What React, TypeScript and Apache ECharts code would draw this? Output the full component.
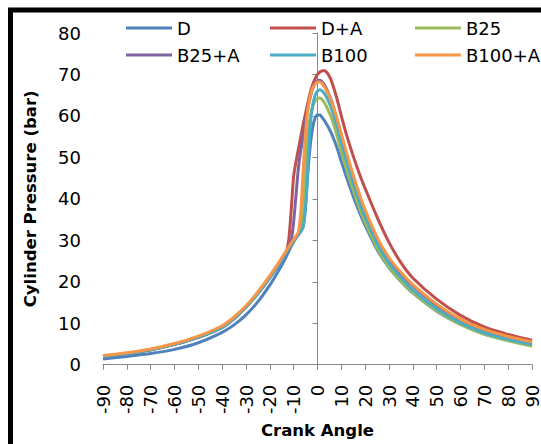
import React, { useEffect, useRef } from "react";
import * as echarts from "echarts";

const angles = [-90, -80, -70, -60, -50, -40, -35, -30, -25, -20, -17, -15, -13, -12, -11, -10, -9, -8, -7, -6, -5, -4, -3, -2, -1, 0, 1, 2, 3, 4, 5, 6, 8, 10, 12, 15, 18, 20, 25, 30, 35, 40, 50, 60, 70, 80, 90];

const valD = [1.4, 2.0, 2.7, 3.7, 5.3, 7.8, 9.6, 12.0, 15.2, 19.2, 22.0, 24.0, 26.2, 27.4, 28.6, 29.6, 30.5, 31.3, 32.1, 33.5, 38.5, 46.5, 53.0, 57.3, 59.5, 60.2, 60.2, 59.6, 58.8, 57.8, 56.8, 55.6, 52.6, 49.0, 45.5, 40.6, 36.2, 33.6, 27.8, 23.4, 20.1, 17.3, 12.9, 9.7, 7.4, 5.9, 4.7];
const valDA = [2.0, 2.7, 3.6, 4.9, 6.6, 9.0, 11.1, 13.9, 17.2, 21.0, 23.5, 25.4, 27.4, 30.5, 37.5, 45.5, 49.0, 52.0, 55.0, 58.0, 60.6, 63.3, 65.7, 67.6, 69.0, 70.0, 70.6, 70.9, 70.9, 70.4, 69.5, 68.2, 64.5, 60.0, 55.8, 50.3, 45.4, 42.5, 35.6, 29.5, 24.6, 20.9, 15.8, 11.9, 9.1, 7.3, 5.9];
const valB25 = [2.0, 2.7, 3.6, 4.9, 6.6, 9.0, 11.1, 13.9, 17.2, 21.0, 23.5, 25.4, 27.3, 28.3, 29.2, 30.0, 30.8, 31.5, 33.0, 38.5, 47.5, 55.5, 60.0, 62.4, 63.6, 64.2, 64.3, 63.9, 63.1, 62.0, 60.7, 59.3, 55.6, 51.3, 47.4, 42.0, 37.1, 34.3, 28.2, 23.6, 20.2, 17.4, 13.0, 9.7, 7.3, 5.8, 4.5];
const valB25A = [2.0, 2.7, 3.6, 4.9, 6.6, 9.0, 11.1, 13.9, 17.2, 21.0, 23.5, 25.4, 27.4, 28.6, 30.0, 34.5, 41.0, 47.5, 51.8, 55.0, 58.6, 62.0, 64.6, 66.6, 67.9, 68.5, 68.6, 68.2, 67.4, 66.3, 64.9, 63.4, 59.6, 55.3, 51.0, 45.2, 40.0, 36.9, 30.4, 25.5, 21.9, 19.0, 14.3, 10.8, 8.3, 6.6, 5.3];
const valB100 = [2.0, 2.7, 3.6, 4.9, 6.6, 9.0, 11.1, 13.9, 17.2, 21.0, 23.5, 25.4, 27.3, 28.3, 29.2, 30.0, 30.8, 31.5, 32.2, 33.2, 38.0, 48.5, 58.0, 62.6, 65.0, 66.0, 66.3, 66.0, 65.3, 64.3, 63.0, 61.5, 57.8, 53.5, 49.5, 43.8, 38.6, 35.6, 29.3, 24.5, 21.0, 18.0, 13.5, 10.1, 7.7, 6.1, 4.9];
const valB100A = [2.2, 2.9, 3.8, 5.1, 6.9, 9.4, 11.5, 14.2, 17.6, 21.5, 24.0, 25.8, 27.6, 28.5, 29.4, 30.2, 31.0, 32.0, 37.0, 47.0, 56.0, 61.8, 64.9, 66.7, 67.7, 68.2, 68.2, 67.7, 66.9, 65.9, 64.7, 63.3, 59.7, 55.6, 51.5, 45.7, 40.4, 37.3, 30.7, 25.8, 22.3, 19.3, 14.6, 11.0, 8.5, 6.8, 5.5];

const seriesNames = ["D", "D+A", "B25", "B25+A", "B100", "B100+A"];
const seriesValues = [valD, valDA, valB25, valB25A, valB100, valB100A];
const seriesColors = ["#4F81BD", "#C0504D", "#9BBB59", "#8064A2", "#4BACC6", "#F79646"];

const legendPos = [
  [126, 19],
  [270, 19],
  [415, 19],
  [126, 46],
  [270, 46],
  [415, 46],
];

export default function App() {
  const ref = useRef<HTMLDivElement>(null);
  useEffect(() => {
    if (!ref.current) return;
    const chart = echarts.init(ref.current, null, { renderer: "svg" });
    const font = "DejaVu Sans";
    const option: any = {
      animation: false,
      backgroundColor: "#ffffff",
      grid: { left: 103, right: 6, top: 33, bottom: 73, containLabel: false },
      legend: seriesNames.map((n, i) => ({
        data: [n],
        left: legendPos[i][0],
        top: legendPos[i][1],
        padding: 0,
        itemWidth: 46,
        itemHeight: 3,
        itemGap: 0,
        icon: "rect",
        textStyle: { fontFamily: font, fontSize: 18, color: "#000" },
        selectedMode: false,
      })),
      graphic: [
        {
          type: "rect",
          shape: { x: 10.5, y: 10, width: 700, height: 700 },
          style: { fill: "none", stroke: "#000", lineWidth: 5 },
          silent: true,
          z: 100,
        },
      ],
      xAxis: {
        type: "value",
        min: -90,
        max: 90,
        interval: 10,
        name: "Crank Angle",
        nameLocation: "middle",
        nameGap: 53,
        nameTextStyle: { fontFamily: font, fontSize: 16.5, fontWeight: "bold", color: "#000", verticalAlign: "top" },
        axisLine: { show: true, onZero: false, lineStyle: { color: "#868686", width: 1 } },
        axisTick: { show: true, inside: false, length: 5, lineStyle: { color: "#868686" } },
        axisLabel: { rotate: 90, margin: 20, fontFamily: font, fontSize: 18, color: "#000", showMinLabel: true, showMaxLabel: true },
        splitLine: { show: false },
      },
      yAxis: {
        type: "value",
        min: 0,
        max: 80,
        interval: 10,
        name: "Cylinder Pressure (bar)",
        nameLocation: "middle",
        nameGap: 64,
        nameTextStyle: { fontFamily: font, fontSize: 16.5, fontWeight: "bold", color: "#000" },
        axisLine: { show: true, lineStyle: { color: "#868686", width: 1 } },
        axisTick: { show: true, inside: false, length: 5, lineStyle: { color: "#868686" } },
        axisLabel: { margin: 22, fontFamily: font, fontSize: 18, color: "#000" },
        splitLine: { show: false },
      },
      series: seriesNames.map((n, i) => ({
        name: n,
        type: "line",
        data: angles.map((a, j) => [a, seriesValues[i][j]]),
        smooth: 0.3,
        symbol: "none",
        lineStyle: { color: seriesColors[i], width: 3 },
        itemStyle: { color: seriesColors[i] },
      })),
    };
    chart.setOption(option);
    return () => chart.dispose();
  }, []);
  return <div ref={ref} style={{ position: "fixed", left: 0, top: 0, width: 541, height: 444 }} />;
}
